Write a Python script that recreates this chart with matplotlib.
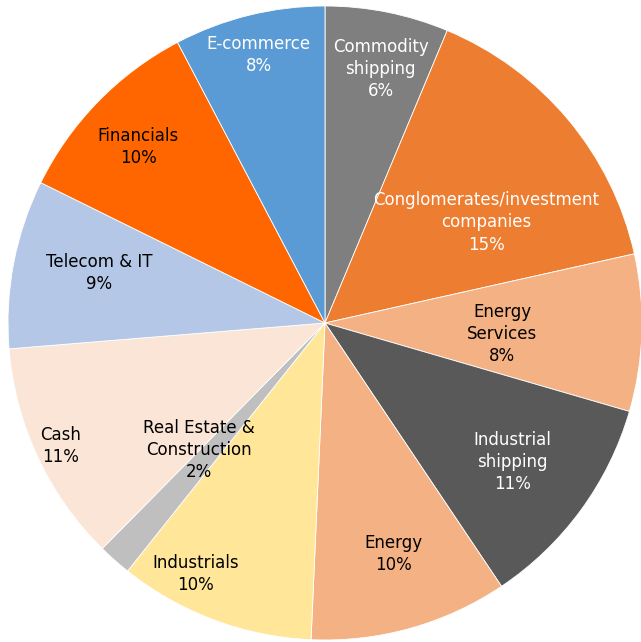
import numpy as np
import matplotlib.pyplot as plt

# portfolio allocation, clockwise from 12 o'clock
sectors = ['Commodity\nshipping', 'Conglomerates/investment\ncompanies',
           'Energy\nServices', 'Industrial\nshipping', 'Energy',
           'Industrials', 'Real Estate &\nConstruction', 'Cash',
           'Telecom & IT', 'Financials', 'E-commerce']
weights = [6.3, 15.2, 8.0, 11.1, 10.1, 10.0, 1.7, 11.3, 8.6, 10.0, 7.7]
colors = ['#7F7F7F', '#ED7D31', '#F4B183', '#595959', '#F4B183', '#FFE699',
          '#BFBFBF', '#FBE5D6', '#B4C7E7', '#FF6600', '#5B9BD5']
text_colors = ['white', 'white', 'black', 'white', 'black', 'black',
               'black', 'black', 'black', 'black', 'white']

# label placement (fraction of radius, clockwise shift in degrees)
label_r = [0.82, 0.60, 0.56, 0.735, 0.76, 0.89, 0.565, 0.92, 0.73, 0.81, 0.87]
label_shift = [1, 8, 1.7, 0.4, -0.9, 6.8, 3.2, 0, 1.7, -0.9, 0]

fig = plt.figure(figsize=(6.41, 6.42), dpi=100)
ax = fig.add_axes([0, 0, 1, 1])

wedges, _ = ax.pie(weights, colors=colors, startangle=90, counterclock=False,
                   wedgeprops=dict(edgecolor='white', linewidth=0.6))

total = sum(weights)
for w, name, val, tc, r, sh in zip(wedges, sectors, weights, text_colors,
                                   label_r, label_shift):
    ang = np.deg2rad((w.theta1 + w.theta2) / 2 - sh)
    ax.text(r * np.cos(ang), r * np.sin(ang),
            f'{name}\n{100 * val / total:.0f}%',
            ha='center', va='center', color=tc, fontsize=12, linespacing=1.3)

R = 317
ax.set_xlim(-325 / R, (641 - 325) / R)
ax.set_ylim(-319 / R, 323 / R)
ax.set_aspect('auto')
ax.axis('off')

fig.savefig('out.png', dpi=100)
